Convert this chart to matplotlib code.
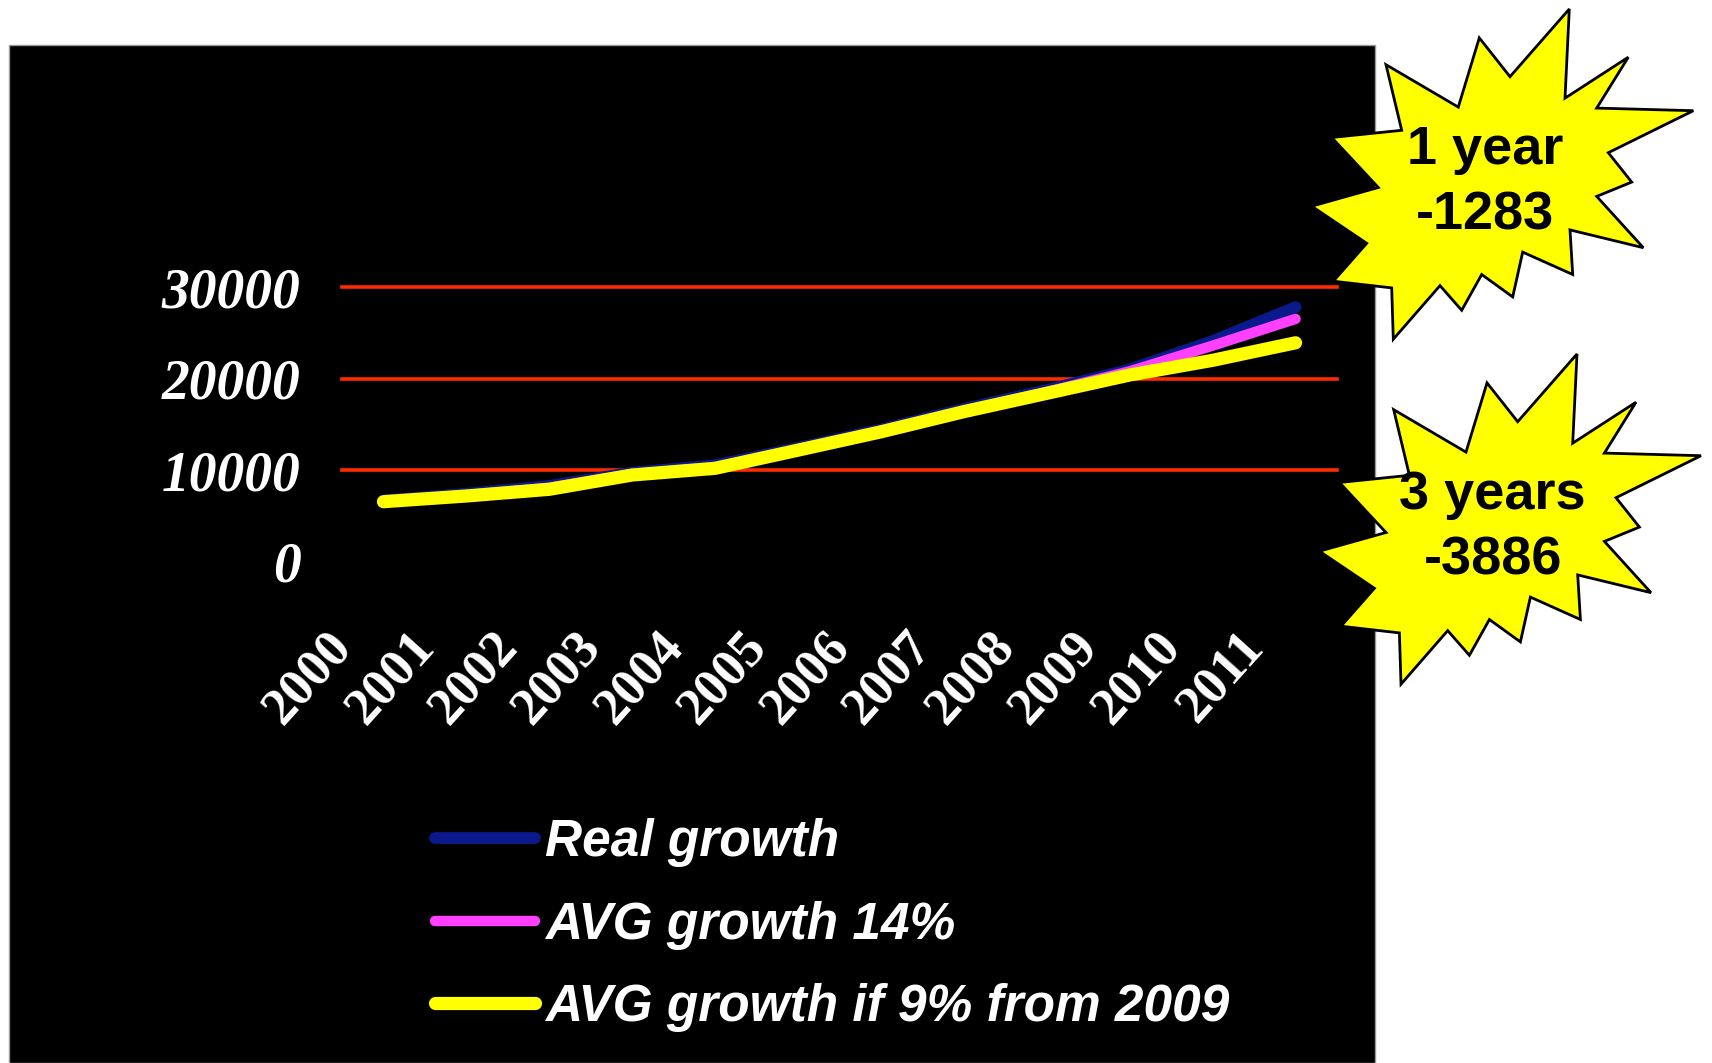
import numpy as np
import matplotlib
matplotlib.use('Agg')
import matplotlib.pyplot as plt
from matplotlib.patches import Rectangle, Polygon
from matplotlib.transforms import ScaledTranslation

# values
years = ['2000', '2001', '2002', '2003', '2004', '2005',
         '2006', '2007', '2008', '2009', '2010', '2011']
real_growth = [6700, 7450, 8300, 9750, 10550, 12450, 14450, 16700, 18750, 21000, 24100, 27800]
avg_growth_14 = [6620, 7300, 8100, 9600, 10320, 12300, 14300, 16500, 18550, 20800, 23600, 26517]
avg_growth_9 = [6580, 7200, 7930, 9490, 10220, 12200, 14200, 16400, 18400, 20400, 22000, 23914]
yticks = [0, 10000, 20000, 30000]

stars = [('1 year\n-1283', 0.0, 0.0), ('3 years\n-3886', 7.7, 345.0)]

W, H = 1712, 1063
fig = plt.figure(figsize=(W / 100, H / 100), dpi=100)
fig.patch.set_facecolor('white')


def px(x, y):
    # pixel position (top-left origin) -> figure fraction
    return x / W, 1 - y / H


# black slide panel behind the chart
x0, y0 = px(9, 1063)
x1, y1 = px(1375, 45)
fig.add_artist(Rectangle((x0, y0), x1 - x0, y1 - y0, transform=fig.transFigure,
                         facecolor='black', edgecolor='#999999', lw=1, zorder=-5))

left, bottom = px(342, 562)
right, top = px(1337, 287)
ax = fig.add_axes([left, bottom, right - left, top - bottom])
ax.set_facecolor('none')
for s in ax.spines.values():
    s.set_visible(False)

xs = np.arange(len(years))
kw = dict(solid_capstyle='round', solid_joinstyle='round')
ax.plot(xs, real_growth, color='#0a1a8c', lw=8.5, label='Real growth', zorder=3, **kw)
ax.plot(xs, avg_growth_14, color='#ff40ff', lw=7.5, label='AVG growth 14%', zorder=4, **kw)
ax.plot(xs, avg_growth_9, color='#ffff00', lw=9.5, label='AVG growth if 9% from 2009', zorder=5, **kw)

ax.set_xlim(-0.5, len(years) - 0.5)
ax.set_ylim(0, 30000)
ax.set_yticks(yticks)
ax.set_yticklabels([str(v) for v in yticks])
for v in yticks[1:]:
    ax.axhline(v, color='#ff2a00', lw=2.6, zorder=1, clip_on=False)

ax.tick_params(axis='y', length=0, pad=30, colors='white')
ax.tick_params(axis='x', length=0, pad=0, colors='white')
for lab in ax.get_yticklabels():
    lab.set_fontfamily('Liberation Serif')
    lab.set_fontweight('bold')
    lab.set_fontstyle('italic')
    lab.set_fontsize(40)

ax.set_xticks(xs)
ax.set_xticklabels(years, rotation=48, ha='right', va='top', rotation_mode='anchor')
shift = ScaledTranslation(-0.58, -0.61, fig.dpi_scale_trans)
for lab in ax.get_xticklabels():
    lab.set_fontfamily('Liberation Serif')
    lab.set_fontweight('bold')
    lab.set_fontsize(38)
    lab.set_transform(lab.get_transform() + shift)

leg = fig.legend(loc='center left', bbox_to_anchor=px(414, 925), borderaxespad=0,
                 frameon=False, handlelength=1.95, handletextpad=0.2, labelspacing=0.65,
                 prop={'family': ['Liberation Sans Narrow', 'Liberation Sans'],
                       'weight': 'bold', 'style': 'italic', 'size': 37})
for t in leg.get_texts():
    t.set_color('white')

# starburst call-outs
star_shape = [(1569.3, 9.0), (1565, 98.2), (1628.3, 57.2), (1596.7, 108.1), (1693.3, 110.7),
              (1608.3, 152.7), (1631.7, 182.1), (1596.7, 196.4), (1643.3, 247.7), (1570, 229.9),
              (1572.7, 274.5), (1522.7, 252.1), (1512.7, 296.9), (1481.7, 274.5), (1461.7, 310.3),
              (1440, 285.6), (1393.3, 339.2), (1391.7, 287.9), (1333.3, 281.2), (1366.7, 243.3),
              (1311.7, 206.2), (1378.3, 187.5), (1331.7, 137.5), (1401.7, 130.3), (1386, 64.7),
              (1458.3, 107.1), (1479.3, 37.9), (1510, 76.7)]
for text, dx, dy in stars:
    pts = [px(x + dx, y + dy) for x, y in star_shape]
    fig.add_artist(Polygon(pts, closed=True, transform=fig.transFigure,
                           facecolor='#ffff00', edgecolor='black', lw=2, zorder=5))
    tx, ty = px(1485 + dx, 183 + dy)
    fig.text(tx, ty, text, ha='center', va='center', family='Liberation Sans',
             fontweight='bold', fontsize=39, linespacing=1.4, zorder=6)

fig.savefig('out.png', dpi=100, facecolor='white')
